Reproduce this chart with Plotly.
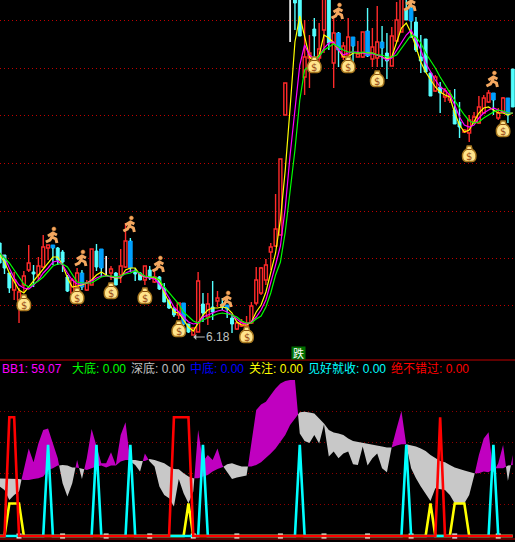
import plotly.graph_objects as go

W, H = 515, 542

opens = [7.10,6.98,6.80,6.63,6.53,6.68,6.83,6.81,6.78,6.86,7.05,7.08,7.05,7.01,6.76,6.60,6.66,6.80,6.63,6.68,
         7.02,7.04,6.97,6.80,6.80,6.78,6.86,7.12,6.82,6.80,6.73,6.83,6.71,6.76,6.65,6.53,6.44,6.38,6.50,6.29,
         6.18,6.21,6.49,6.36,6.46,6.52,6.49,6.48,6.35,6.24,6.27,6.27,6.30,6.50,6.60,6.73,7.01,7.07,7.18,8.38,
         9.63,9.60,9.58,8.76,8.95,9.24,8.95,9.23,9.58,8.90,9.20,8.96,8.98,9.16,8.96,8.96,9.22,8.94,8.95,9.11,
         9.00,8.87,9.12,9.21,9.43,9.45,9.31,8.96,9.14,8.80,8.62,8.66,8.56,8.53,8.43,8.31,8.21,8.20,8.30,8.30,
         8.40,8.51,8.60,8.35,8.41,8.55,8.84]
highs = [7.10,6.98,6.80,6.81,6.65,6.82,7.08,6.88,6.96,7.18,7.08,7.08,7.06,7.03,6.78,6.75,6.85,6.83,6.73,7.04,
         7.09,7.04,6.97,6.87,6.81,7.04,7.30,7.15,6.85,6.81,6.87,6.87,6.83,6.77,6.70,6.53,6.46,6.50,6.50,6.29,
         6.25,6.81,6.60,6.60,6.72,6.62,6.55,6.48,6.38,6.32,6.34,6.37,6.51,6.86,6.86,6.94,7.10,7.59,7.94,8.70,
         9.63,9.70,9.65,9.33,9.18,9.35,9.30,9.60,9.60,9.35,9.21,9.11,9.35,9.16,9.12,9.21,9.45,9.25,9.47,9.27,
         9.20,9.26,9.51,9.60,9.60,9.51,9.36,9.18,9.14,8.80,8.78,8.71,8.65,8.63,8.64,8.51,8.24,8.38,8.41,8.57,
         8.58,8.63,8.60,8.45,8.56,8.55,8.84]
lows = [6.90,6.79,6.60,6.53,6.30,6.60,6.81,6.66,6.73,6.85,6.93,6.88,6.88,6.81,6.61,6.57,6.65,6.63,6.62,6.68,
        6.82,6.76,6.77,6.73,6.68,6.70,6.85,6.81,6.72,6.73,6.68,6.73,6.70,6.63,6.51,6.44,6.36,6.34,6.28,6.20,
        6.18,6.21,6.31,6.28,6.33,6.46,6.43,6.35,6.20,6.23,6.26,6.25,6.29,6.48,6.58,6.68,6.83,7.06,7.18,8.38,
        9.11,9.23,9.17,8.58,8.65,8.96,8.86,9.00,9.03,8.65,8.86,8.93,8.98,8.91,8.96,8.95,8.96,8.86,8.86,8.86,
        8.74,8.87,9.12,9.21,9.33,9.15,9.01,8.80,8.81,8.57,8.61,8.40,8.51,8.50,8.29,8.15,8.20,8.11,8.29,8.29,
        8.39,8.50,8.38,8.33,8.40,8.30,8.46]
closes = [6.90,6.85,6.65,6.73,6.61,6.77,6.90,6.79,6.87,7.06,7.08,7.05,6.93,6.91,6.62,6.73,6.80,6.66,6.70,7.04,
          6.86,6.85,6.97,6.84,6.68,6.87,7.12,6.85,6.79,6.73,6.87,6.75,6.76,6.64,6.51,6.45,6.38,6.50,6.29,6.21,
          6.25,6.72,6.40,6.49,6.41,6.55,6.46,6.44,6.29,6.30,6.31,6.30,6.47,6.73,6.85,6.88,7.06,7.24,7.94,8.70,
          9.63,9.50,9.17,8.96,9.00,9.17,9.04,9.58,9.10,9.20,9.03,9.07,9.16,9.07,8.99,9.21,8.97,9.06,9.11,9.05,
          8.92,9.17,9.33,9.58,9.33,9.32,9.03,8.92,8.81,8.57,8.76,8.60,8.62,8.58,8.29,8.26,8.23,8.33,8.36,8.46,
          8.55,8.60,8.53,8.40,8.55,8.38,8.46]
blue_bars = [11,17,21,27,38,47,70,73,76,79,85,102,105]

ma_yellow = [6.98,6.91,6.80,6.71,6.63,6.60,6.66,6.73,6.78,6.85,6.91,6.96,6.96,6.88,6.75,6.66,6.67,6.68,6.70,6.73,
             6.78,6.81,6.78,6.76,6.75,6.75,6.83,6.85,6.85,6.78,6.76,6.76,6.75,6.73,6.60,6.50,6.41,6.40,6.33,6.26,
             6.22,6.30,6.38,6.43,6.45,6.45,6.46,6.45,6.40,6.31,6.28,6.28,6.31,6.41,6.48,6.61,6.81,7.00,7.33,7.83,
             8.45,9.11,9.37,9.15,8.96,8.91,8.98,9.18,9.15,9.10,9.03,8.96,8.96,9.00,9.00,9.00,9.00,9.00,8.98,8.96,
             8.94,8.96,9.10,9.25,9.30,9.20,9.06,8.91,8.81,8.73,8.66,8.61,8.58,8.56,8.40,8.28,8.21,8.23,8.31,8.40,
             8.45,8.46,8.43,8.40,8.40,8.38,8.40]
ma_magenta = [7.00,6.96,6.85,6.75,6.68,6.65,6.64,6.68,6.73,6.80,6.85,6.91,6.92,6.88,6.80,6.73,6.69,6.69,6.70,6.72,
              6.75,6.77,6.77,6.76,6.76,6.76,6.80,6.82,6.82,6.79,6.76,6.75,6.74,6.69,6.63,6.55,6.46,6.41,6.36,6.31,
              6.29,6.30,6.36,6.38,6.40,6.42,6.43,6.41,6.38,6.34,6.30,6.29,6.31,6.36,6.43,6.53,6.70,6.88,7.07,7.45,
              7.98,8.46,8.88,9.08,8.98,8.94,8.96,9.05,9.10,9.11,9.03,8.98,9.00,9.01,9.01,9.00,8.99,8.99,8.98,8.96,
              8.93,8.95,9.03,9.11,9.18,9.23,9.13,9.03,8.90,8.81,8.73,8.66,8.63,8.58,8.48,8.36,8.28,8.26,8.28,8.35,
              8.40,8.43,8.45,8.43,8.41,8.40,8.40]
ma_green = [7.00,6.95,6.90,6.83,6.76,6.69,6.66,6.69,6.72,6.76,6.81,6.87,6.89,6.89,6.86,6.78,6.71,6.70,6.70,6.70,
            6.73,6.76,6.77,6.77,6.76,6.77,6.79,6.80,6.82,6.80,6.77,6.76,6.76,6.73,6.66,6.60,6.55,6.49,6.41,6.36,
            6.32,6.30,6.33,6.35,6.37,6.39,6.40,6.39,6.38,6.36,6.32,6.30,6.30,6.34,6.37,6.46,6.60,6.78,6.91,7.21,
            7.61,8.03,8.53,8.83,8.88,8.91,8.97,9.03,9.06,9.09,9.06,9.03,9.01,9.01,9.00,9.01,9.00,9.00,8.98,8.98,
            8.96,8.96,8.98,9.05,9.11,9.18,9.16,9.10,9.00,8.93,8.85,8.76,8.68,8.61,8.53,8.45,8.38,8.32,8.30,8.31,
            8.35,8.38,8.41,8.43,8.42,8.40,8.40]

bb1 = [39.5,36.8,28.8,32.8,35.5,54.1,70.1,58.9,74.1,84.8,86.1,74.1,62.1,42.1,31.5,42.1,60.8,45.6,62.1,85.6,
       72.8,58.1,58.1,66.9,56.8,80.8,90.9,59.5,56.8,51.5,66.1,59.5,55.5,39.5,32.8,30.1,23.5,45.6,34.1,26.1,
       35.5,84.8,59.5,64.8,60.8,70.1,56.8,50.9,45.6,46.7,47.5,48.3,72.8,100.8,105.3,107.5,112.8,118.1,122.1,124.0,
       124.8,124.8,82.1,76.0,74.4,80.8,74.1,89.3,63.5,67.5,62.1,66.1,67.5,57.3,56.8,71.5,56.3,62.1,66.1,54.1,
       50.9,71.2,86.1,100.0,72.8,54.1,46.1,39.5,34.1,28.0,38.1,37.6,36.8,32.8,26.1,26.1,26.1,32.8,47.5,64.8,
       78.1,82.9,50.9,58.1,72.8,44.0,64.8]
signal = [46.1,45.6,45.6,45.6,45.6,44.8,44.8,45.6,46.1,47.5,52.8,54.1,56.3,56.8,56.3,54.7,54.7,54.1,52.8,54.1,
          55.5,56.3,54.7,56.3,56.3,59.5,60.8,60.8,60.8,60.0,60.0,61.6,60.8,59.5,58.1,55.5,53.6,53.3,50.1,47.5,
          46.1,46.1,47.5,48.8,51.5,53.6,54.9,57.3,58.1,56.8,55.5,55.5,55.5,56.8,58.9,62.1,66.1,70.1,75.5,80.8,
          88.8,94.1,98.9,99.5,98.7,98.1,94.1,90.1,84.8,82.7,81.9,80.8,78.1,76.0,75.5,74.1,73.3,72.8,72.3,71.5,
          70.7,70.7,72.3,73.3,73.3,72.3,71.5,70.1,68.0,64.8,62.1,60.0,58.9,56.8,54.7,53.6,52.3,51.5,50.1,50.1,
          51.5,50.9,54.1,54.1,54.1,56.3,56.8]

guanzhu = {2:26,3:26,4:26,39:26,89:26,94:26,95:26,96:26}
jianhao = {10:73,20:73,27:73,42:73,62:73,84:73,102:73}
juebu = {2:95,3:95,36:95,37:95,38:95,39:95,91:95}

bag_bars = [5,16,23,30,37,51,65,72,78,97,104]
bag_prices = [6.50,6.57,6.62,6.57,6.24,6.18,8.88,8.88,8.74,7.99,8.24]
run_bars = [11,17,27,33,47,70,85,102]
run_prices = [7.17,6.94,7.28,6.88,6.53,9.41,9.49,8.73]
tick_bars = [4,13,22,31,40,49,58,67,76,85,94,103]

main_grid = [9.33,8.85,8.38,7.90,7.42,6.95,6.48]
sub_grid = [25,50,75,100]

legend_items = [("BB1: 59.07","#ff00ff",1),("大底: 0.00","#00ff00",71),("深底: 0.00","#c0c0c0",130),
                ("中底: 0.00","#0000ff",189),("关注: 0.00","#ffff00",248),("见好就收: 0.00","#00ffff",307),
                ("绝不错过: 0.00","#ff0000",390)]

N = len(closes)
bars = list(range(N))
assert all(len(a) == N for a in (opens, highs, lows, ma_yellow, ma_magenta, ma_green, bb1, signal))

RED, CYAN, BLUE = "#ff2a2a", "#54ffff", "#00a0ff"
fig = go.Figure()

def bodies(idx, color, fill, width, lw):
    fig.add_trace(go.Bar(x=idx, base=[min(opens[i], closes[i]) for i in idx],
                         y=[abs(opens[i] - closes[i]) for i in idx], width=width,
                         marker=dict(color=fill, line=dict(color=color, width=lw)),
                         hoverinfo="skip", showlegend=False, xaxis="x", yaxis="y"))

def wicks(idx, color, width=1.4):
    xs, ys = [], []
    for i in idx:
        top, bot = max(opens[i], closes[i]), min(opens[i], closes[i])
        xs += [i, i, None, i, i, None]
        ys += [highs[i], top, None, bot, lows[i], None]
    fig.add_trace(go.Scatter(x=xs, y=ys, mode="lines", line=dict(color=color, width=width),
                             connectgaps=False, hoverinfo="skip", showlegend=False, xaxis="x", yaxis="y"))

white = [i for i in bars if opens[i] == closes[i]]
up = [i for i in bars if closes[i] > opens[i]]
blue = [i for i in blue_bars]
down = [i for i in bars if closes[i] < opens[i] and i not in blue_bars]
bodies(up, RED, "#000000", 0.6, 1.4)
bodies(down, CYAN, CYAN, 0.6, 1)
bodies(blue, BLUE, BLUE, 0.75, 1)
wicks(up, RED)
wicks(down, CYAN)
wicks(blue, CYAN)
wicks(white, "#ffffff", 1.6)

for arr, col in ((ma_yellow, "#ffff00"), (ma_magenta, "#ff00ff"), (ma_green, "#00ff00")):
    fig.add_trace(go.Scatter(x=bars, y=arr, mode="lines", line=dict(color=col, width=1.2),
                             hoverinfo="skip", showlegend=False, xaxis="x", yaxis="y"))

# Bands between BB1 and its signal line
poly = {"m": ([], []), "g": ([], [])}
run = []
def flush(key, run):
    if len(run) < 2:
        return
    xs = [r[0] for r in run] + [r[0] for r in run[::-1]]
    ys = [r[1] for r in run] + [r[2] for r in run[::-1]]
    poly[key][0].extend(xs + [xs[0], None])
    poly[key][1].extend(ys + [ys[0], None])
key = None
for i in bars:
    k = "m" if bb1[i] >= signal[i] else "g"
    if key is None:
        key = k
    if k != key:
        d0, d1 = bb1[i-1] - signal[i-1], bb1[i] - signal[i]
        t = d0 / (d0 - d1)
        xc, yc = i - 1 + t, signal[i-1] + t * (signal[i] - signal[i-1])
        run.append((xc, yc, yc))
        flush(key, run)
        run = [(xc, yc, yc)]
        key = k
    run.append((i, bb1[i], signal[i]))
flush(key, run)
for k, col in (("g", "#c8c8c8"), ("m", "#c000c0")):
    fig.add_trace(go.Scatter(x=poly[k][0], y=poly[k][1], mode="lines", fill="toself", fillcolor=col,
                             line=dict(width=0, color=col), hoverinfo="skip", showlegend=False,
                             xaxis="x2", yaxis="y2"))

fig.add_trace(go.Scatter(x=tick_bars, y=[0]*len(tick_bars), mode="markers",
                         marker=dict(symbol="square", size=5, color="#ffffff"),
                         hoverinfo="skip", showlegend=False, xaxis="x2", yaxis="y2"))
for series, col in ((guanzhu, "#ffff00"), (jianhao, "#00ffff"), (juebu, "#ff0000")):
    fig.add_trace(go.Scatter(x=bars, y=[series.get(i, 0) for i in bars], mode="lines",
                             line=dict(color=col, width=2.6), hoverinfo="skip", showlegend=False,
                             xaxis="x2", yaxis="y2"))

shapes = []
BAG = "M -2,8 L 2,8 L 3,4.5 C 8,2 8,-7 3,-7.5 L -3,-7.5 C -8,-7 -8,2 -3,4.5 Z"
for b, p in zip(bag_bars, bag_prices):
    shapes.append(dict(type="path", path=BAG, xref="x", yref="y", xsizemode="pixel", ysizemode="pixel",
                       xanchor=b, yanchor=p, fillcolor="#ffe48c", line=dict(color="#a87820", width=1.4),
                       layer="above"))
    shapes.append(dict(type="line", x0=-2.5, x1=2.5, y0=4.5, y1=4.5, xref="x", yref="y",
                       xsizemode="pixel", ysizemode="pixel", xanchor=b, yanchor=p,
                       line=dict(color="#8a5010", width=1), layer="above"))
BODY = ("M 0,3 L -1,-1 M -1,-1 L 3,-3 L 4,-7 M -1,-1 L -3,-4 L -7,-6 "
        "M -5,0 L 0,3 L 4,1")
HEAD = "M -1,7 C -1,9.6 3,9.6 3,7 C 3,4.4 -1,4.4 -1,7 Z"
for b, p in zip(run_bars, run_prices):
    shapes.append(dict(type="path", path=BODY, xref="x", yref="y", xsizemode="pixel", ysizemode="pixel",
                       xanchor=b, yanchor=p, line=dict(color="#f4a860", width=3), layer="above"))
    shapes.append(dict(type="path", path=HEAD, xref="x", yref="y", xsizemode="pixel", ysizemode="pixel",
                       xanchor=b, yanchor=p, fillcolor="#f4a860", line=dict(color="#c87830", width=0.6),
                       layer="above"))
py = lambda y: 1 - y / H
for y, col in ((360, "#c00000"), (539, "#c00000")):
    shapes.append(dict(type="line", xref="paper", yref="paper", x0=0, x1=1, y0=py(y), y1=py(y),
                       line=dict(color=col, width=1), layer="below"))

FONT = "Liberation Sans, Noto Sans CJK SC"
ann = [dict(text=t, x=(xp - 1) / W, y=py(368.5), xref="paper", yref="paper", xanchor="left", yanchor="middle",
            showarrow=False, font=dict(family=FONT, size=12, color=c)) for t, c, xp in legend_items]
ann.append(dict(text="6.18", x=40, y=6.18, xref="x", yref="y", ax=25, ay=0, axref="pixel", ayref="pixel",
                yshift=-2, showarrow=True, arrowhead=1, arrowsize=1, arrowwidth=1, arrowcolor="#c0c0c0",
                font=dict(family=FONT, size=12, color="#c0c0c0")))
ann.append(dict(text="跌", x=298.5 / W, y=py(353), xref="paper", yref="paper", xanchor="center", yanchor="middle",
                width=13, height=12, showarrow=False, bgcolor="#007000", borderpad=0,
                font=dict(family="Noto Sans CJK SC", size=11, color="#ffffff")))
for b, p in zip(bag_bars, bag_prices):
    ann.append(dict(text="$", x=b, y=p, xref="x", yref="y", xanchor="center", yanchor="middle",
                    yshift=-2, showarrow=False, font=dict(family="DejaVu Sans", size=10, color="#9a4a18")))

split = (H - 360) / H
xrange_ = [0.07, 106.46]
def grid(vals, col):
    return dict(tickvals=vals, showticklabels=False, ticks="", showline=False, zeroline=False,
                showgrid=True, gridcolor=col, gridwidth=1, griddash="1px,3px")
fig.update_layout(
    width=W, height=H, autosize=False, margin=dict(l=0, r=0, t=0, b=0),
    paper_bgcolor="#000000", plot_bgcolor="#000000", showlegend=False, barmode="overlay",
    xaxis=dict(range=xrange_, domain=[0, 1], anchor="y", visible=False),
    xaxis2=dict(range=xrange_, domain=[0, 1], anchor="y2", visible=False),
    yaxis=dict(range=[5.93, 9.53], domain=[split, 1], anchor="x", **grid(main_grid, "#c00000")),
    yaxis2=dict(range=[-4.8, 140.8], domain=[0, split], anchor="x2", **grid(sub_grid, "#8c0000")),
    shapes=shapes, annotations=ann)
fig.write_html("out.html", config=dict(displayModeBar=False),
               post_script="document.body.style.margin='0';document.body.style.background='#000';")
